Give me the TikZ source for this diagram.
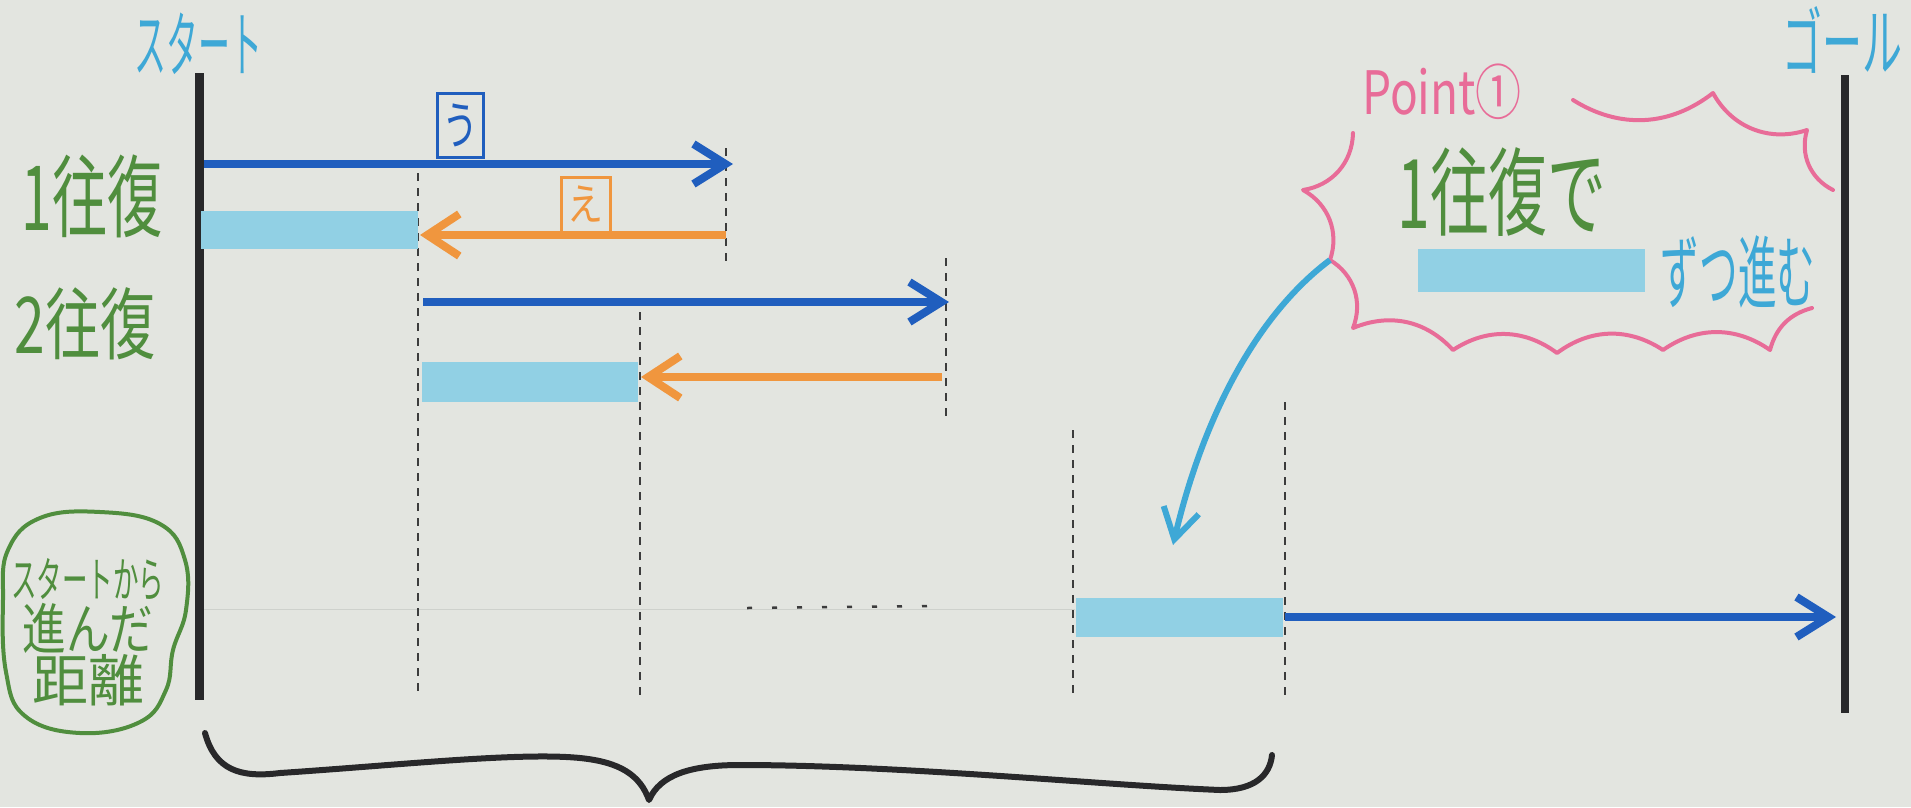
\documentclass[tikz,border=0pt]{standalone}
\usepackage{fontspec}
\usepackage{graphicx}
\newfontfamily\jp{Noto Sans CJK JP}
\usetikzlibrary{arrows.meta}
\definecolor{paper}{RGB}{227,229,224}
\definecolor{gridcol}{RGB}{206,209,204}
\definecolor{barcol}{RGB}{40,40,42}
\definecolor{dashcol}{RGB}{60,60,60}
\definecolor{inkblue}{RGB}{32,94,190}
\definecolor{inkorange}{RGB}{240,150,62}
\definecolor{stripcol}{RGB}{145,208,228}
\definecolor{cyantext}{RGB}{62,168,214}
\definecolor{greentext}{RGB}{80,142,62}
\definecolor{pinkc}{RGB}{232,108,152}
\begin{document}
\begin{tikzpicture}[x=1pt,y=-1pt,
  bar/.style={draw=barcol, line width=9pt},
  guide/.style={draw=dashcol, line width=1.5pt, dash pattern=on 8pt off 7pt},
  bluearrow/.style={draw=inkblue, line width=8pt, -{Straight Barb[length=32pt,width=40pt]}},
  orangearrow/.style={draw=inkorange, line width=8pt, -{Straight Barb[length=32pt,width=42pt]}},
  strip/.style={fill=stripcol, draw=none, inner sep=0pt, anchor=north west},
  letterbox/.style={draw, line width=3pt, inner sep=0pt, font=\jp\fontsize{40}{40}\selectfont},
  cloud/.style={draw=pinkc, line width=4pt, line cap=round, line join=round}
]
\useasboundingbox (0,0) rectangle (1911,807);
\clip (0,0) rectangle (1911,807);
\fill[paper] (0,0) rectangle (1911,807);
\draw[gridcol, line width=1pt] (203,609) -- (1075,609);

% start and goal bars
\coordinate (starttop) at (199,73);
\coordinate (startbot) at (199,700);
\coordinate (goaltop) at (1845,75);
\coordinate (goalbot) at (1845,713);
\draw[bar] (starttop) -- (startbot);
\draw[bar, line width=8pt] (goaltop) -- (goalbot);

% labels at top
\node[text=cyantext, font=\jp\fontsize{40}{40}\selectfont] (startlabel) at (198,44) {\scalebox{0.8}[1.8]{スタート}};
\node[text=cyantext, font=\jp\fontsize{50}{50}\selectfont, anchor=west, inner sep=0pt] (goallabel) at (1782,40) {\scalebox{0.8}[1.5]{ゴール}};

% row labels
\node[text=greentext, font=\jp\fontsize{58}{58}\selectfont] (row1) at (92,196) {\scalebox{0.95}[1.55]{1往復}};
\node[text=greentext, font=\jp\fontsize{58}{58}\selectfont] (row2) at (85,324) {\scalebox{0.95}[1.35]{2往復}};

% guide lines (dashed)
\draw[guide] (418,173) -- (418,697);
\draw[guide] (726,148) -- (726,262);
\draw[guide] (640,312) -- (640,697);
\draw[guide] (946,258) -- (946,420);
\draw[guide] (1073,430) -- (1073,697);
\draw[guide] (1285,402) -- (1285,697);
\draw[dashcol, line width=2.5pt, dash pattern=on 5pt off 20pt] (747,608) -- (942,606);

% strips
\node[strip, minimum width=217pt, minimum height=38pt] (strip1) at (201,211) {};
\node[strip, minimum width=216pt, minimum height=40pt] (strip2) at (422,362) {};
\node[strip, minimum width=207pt, minimum height=39pt] (strip3) at (1076,598) {};
\node[strip, minimum width=227pt, minimum height=43pt] (strip4) at (1418,249) {};

% arrows
\coordinate (a1s) at (204,164);
\coordinate (a1e) at (733,164);
\coordinate (a2s) at (726,235);
\coordinate (a2e) at (420,235);
\coordinate (a3s) at (423,302);
\coordinate (a3e) at (949,302);
\coordinate (a4s) at (942,377);
\coordinate (a4e) at (641,377);
\coordinate (a5s) at (1285,617);
\coordinate (a5e) at (1836,617);
\draw[bluearrow] (a1s) -- (a1e);
\draw[orangearrow] (a2s) -- (a2e);
\draw[bluearrow] (a3s) -- (a3e);
\draw[orangearrow] (a4s) -- (a4e);
\draw[bluearrow] (a5s) -- (a5e);

% letter boxes
\node[letterbox, draw=inkblue, text=inkblue, minimum width=46pt, minimum height=64pt] (boxu) at (460,125) {\scalebox{0.9}[1.3]{う}};
\node[letterbox, draw=inkorange, text=inkorange, minimum width=49pt, minimum height=55pt] (boxe) at (585.5,204.5) {\scalebox{0.9}[1.1]{え}};

% callout
\node[text=pinkc, font=\jp\fontsize{46}{46}\selectfont] (point) at (1442,92) {\scalebox{1}[1.3]{Point①}};
\coordinate (c1) at (1353,133);
\coordinate (c2) at (1303,190);
\coordinate (c3) at (1330,260);
\coordinate (c4) at (1353,328);
\draw[cloud] (c1) to[bend left=40] (c2) to[bend left=40] (c3) to[bend left=40] (c4)
  to[bend left=35] (1453,350) to[bend left=35] (1557,353) to[bend left=35] (1663,350)
  to[bend left=35] (1770,350) to[bend left=30] (1812,308);
\draw[cloud] (1573,100) to[bend right=35] (1713,93) to[bend right=40] (1807,130) to[bend right=40] (1833,190);
\node[text=greentext, font=\jp\fontsize{62}{62}\selectfont] (onetrip) at (1502,192) {\scalebox{0.95}[1.55]{1往復で}};
\node[text=cyantext, font=\jp\fontsize{42}{42}\selectfont] (zutsu) at (1738,272) {\scalebox{0.92}[1.9]{ずつ進む}};

% pointer arrow
\coordinate (ptrend) at (1173,545);
\draw[cyantext, line width=6pt, -{Straight Barb[length=30pt,width=36pt]}] (c3) .. controls (1250,320) and (1200,430) .. (ptrend);

% distance label
\draw[greentext, line width=4pt] plot[smooth cycle, tension=0.7] coordinates {(40,518) (100,512) (160,524) (185,560) (186,610) (173,650) (166,690) (140,722) (80,733) (25,716) (6,672) (3,600) (8,550)};
\node[text=greentext, align=center, inner sep=0pt] (dist) at (88,632) {\jp\fontsize{30}{34}\selectfont\scalebox{0.85}[1.6]{スタートから}\\[2pt] \jp\fontsize{46}{46}\selectfont\scalebox{0.95}[1.2]{進んだ}\\ \jp\fontsize{56}{52}\selectfont\scalebox{1}[1]{距離}};

% brace
\draw[barcol, line width=6pt, line cap=round, line join=round] (205,733) .. controls (215,770) and (240,778) .. (280,773) .. controls (400,765) and (520,752) .. (580,758) .. controls (620,762) and (640,775) .. (649,800) .. controls (660,775) and (690,765) .. (740,765) .. controls (900,765) and (1100,785) .. (1220,790) .. controls (1255,790) and (1270,775) .. (1272,755);
\end{tikzpicture}
\end{document}
